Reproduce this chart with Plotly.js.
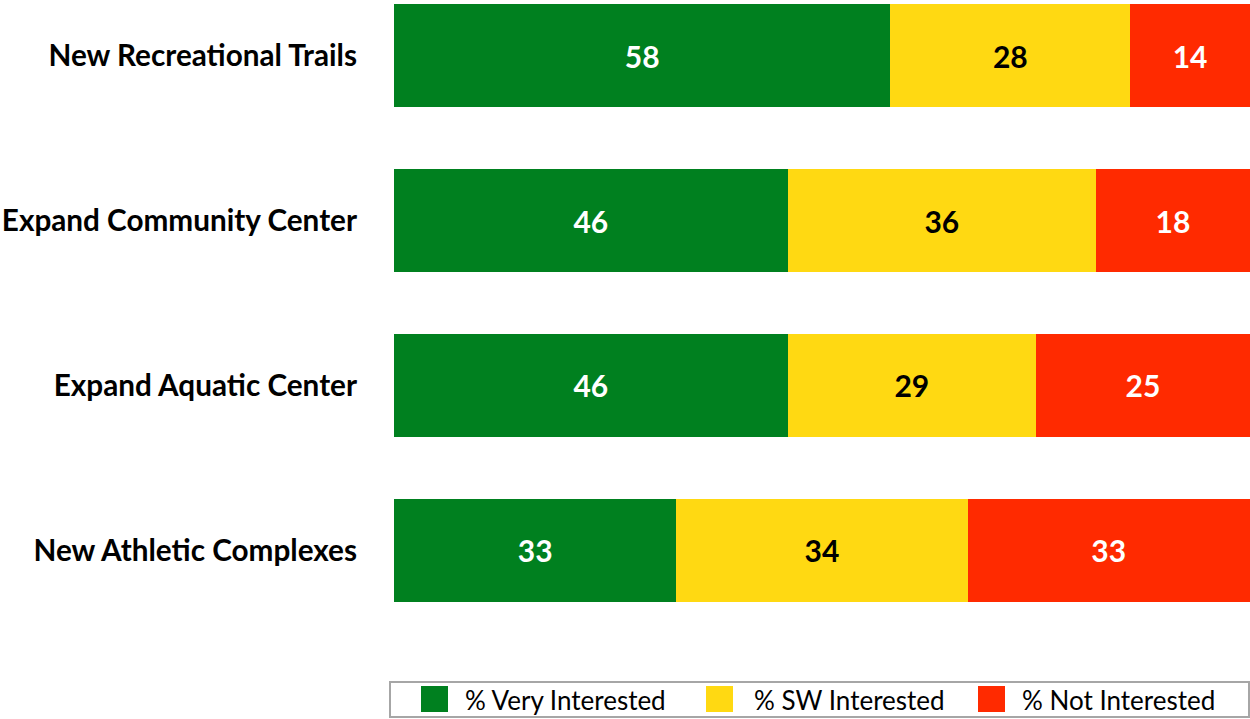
<!DOCTYPE html>
<html>
<head>
<meta charset="utf-8">
<script src="https://cdn.plot.ly/plotly-3.0.1.min.js"></script>
<style>html,body{margin:0;padding:0;background:#fff;}#chart{width:1250px;height:719px;}</style>
</head>
<body>
<div id="chart"></div>
<script>
const categories = ["New Recreational Trails", "Expand Community Center", "Expand Aquatic Center", "New Athletic Complexes"];
const veryInterested = [58, 46, 46, 33];
const swInterested = [28, 36, 29, 34];
const notInterested = [14, 18, 25, 33];
const seriesNames = ["% Very Interested", "% SW Interested", "% Not Interested"];
const seriesColors = ["#00801F", "#FFD912", "#FF2A00"];
const labelColors = ["#FFFFFF", "#000000", "#FFFFFF"];

const FONT = "Lato, 'Open Sans', sans-serif";
const W = 1250, H = 719;
const M = { l: 394, r: 0, t: 0, b: 69 };
const PW = W - M.l - M.r, PH = H - M.t - M.b;
const px2x = p => (p - M.l) / PW;
const px2y = p => (PH + M.t - p) / PH;

const seriesValues = [veryInterested, swInterested, notInterested];
const traces = seriesValues.map((vals, i) => ({
  type: "bar",
  orientation: "h",
  name: seriesNames[i],
  y: categories,
  x: vals,
  marker: { color: seriesColors[i], line: { width: 0 } },
  text: vals.map(String),
  textposition: "inside",
  insidetextanchor: "middle",
  constraintext: "none",
  textfont: { family: FONT, size: 30, color: labelColors[i], weight: 700 },
  hoverinfo: "none",
  showlegend: false
}));

// Custom legend (box, swatches, labels) in paper coordinates
const legendSwatchLeft = [421, 706, 978];
const legendTextLeft = [463, 752, 1020];
const shapes = [{
  type: "rect", xref: "paper", yref: "paper",
  x0: px2x(390), x1: px2x(1249), y0: px2y(682), y1: px2y(717),
  line: { color: "#A6A6A6", width: 2 }, fillcolor: "rgba(0,0,0,0)"
}];
const annotations = [];
seriesNames.forEach((name, i) => {
  shapes.push({
    type: "rect", xref: "paper", yref: "paper",
    x0: px2x(legendSwatchLeft[i]), x1: px2x(legendSwatchLeft[i] + 27),
    y0: px2y(686), y1: px2y(712),
    line: { width: 0 }, fillcolor: seriesColors[i]
  });
  annotations.push({
    xref: "paper", yref: "paper",
    x: px2x(legendTextLeft[i]), y: px2y(699.5),
    xanchor: "left", yanchor: "middle",
    text: name, showarrow: false,
    font: { family: FONT, size: 26, color: "#000" }
  });
});

const layout = {
  width: W,
  height: H,
  margin: { l: M.l, r: M.r, t: M.t, b: M.b, pad: 0 },
  paper_bgcolor: "#ffffff",
  plot_bgcolor: "#ffffff",
  barmode: "stack",
  bargap: 0.375,
  showlegend: false,
  font: { family: FONT, color: "#000" },
  xaxis: {
    range: [0, 100],
    showgrid: false,
    zeroline: false,
    showticklabels: false,
    showline: false,
    ticks: ""
  },
  yaxis: {
    type: "category",
    range: [3.606, -0.339],
    autorange: false,
    showgrid: false,
    zeroline: false,
    showline: false,
    ticks: "",
    ticklabelstandoff: 36,
    tickfont: { family: FONT, size: 29.7, color: "#000", weight: 700 }
  },
  shapes: shapes,
  annotations: annotations
};

Plotly.newPlot("chart", traces, layout, { staticPlot: true, displayModeBar: false });
</script>
</body>
</html>
